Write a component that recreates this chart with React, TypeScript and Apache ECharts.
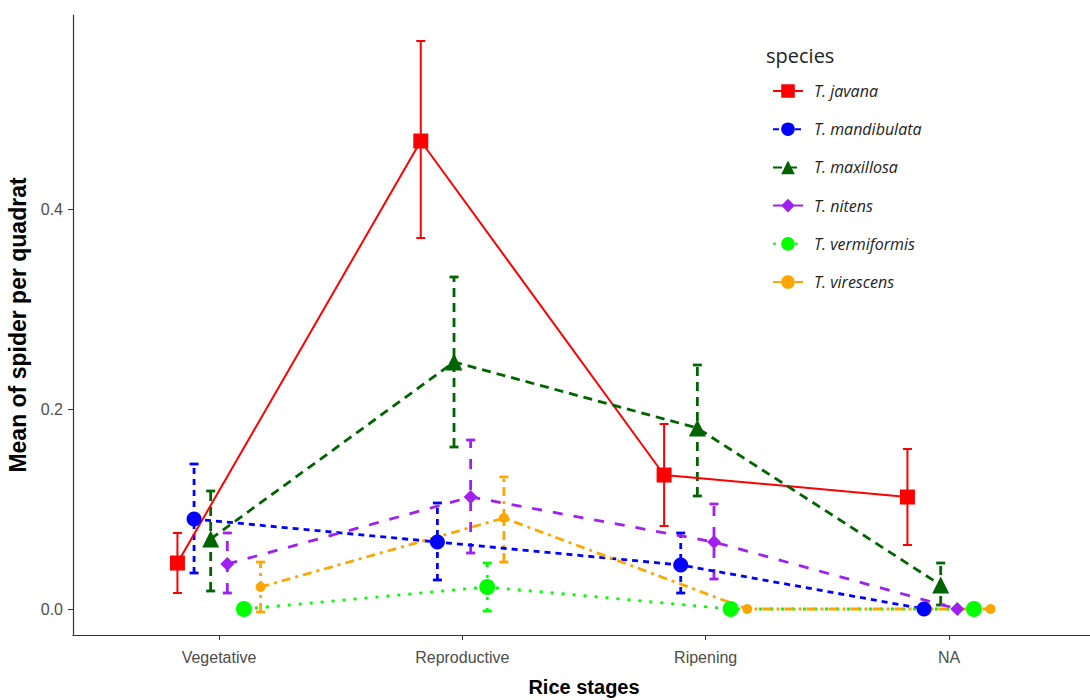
import React, { useEffect, useRef } from "react";
import * as echarts from "echarts";

const categories = ["Vegetative", "Reproductive", "Ripening", "NA"];
const speciesNames = ["T. javana", "T. mandibulata", "T. maxillosa", "T. nitens", "T. vermiformis", "T. virescens"];
const yTicks = [0, 0.2, 0.4];

const javanaMean = [0.046, 0.468, 0.134, 0.112];
const javanaLow = [0.016, 0.371, 0.083, 0.064];
const javanaHigh = [0.076, 0.568, 0.185, 0.16];

const mandibulataMean = [0.09, 0.067, 0.044, 0.0];
const mandibulataLow = [0.036, 0.029, 0.016, 0.0];
const mandibulataHigh = [0.145, 0.106, 0.076, 0.0];

const maxillosaMean = [0.07, 0.247, 0.181, 0.024];
const maxillosaLow = [0.018, 0.162, 0.113, 0.004];
const maxillosaHigh = [0.118, 0.332, 0.244, 0.046];

const nitensMean = [0.045, 0.112, 0.067, 0.0];
const nitensLow = [0.016, 0.056, 0.03, 0.0];
const nitensHigh = [0.076, 0.169, 0.105, 0.0];

const vermiformisMean = [0.0, 0.022, 0.0, 0.0];
const vermiformisLow = [0.0, -0.002, 0.0, 0.0];
const vermiformisHigh = [0.0, 0.046, 0.0, 0.0];

const virescensMean = [0.022, 0.091, 0.0, 0.0];
const virescensLow = [-0.003, 0.047, 0.0, 0.0];
const virescensHigh = [0.047, 0.132, 0.0, 0.0];

const means = [javanaMean, mandibulataMean, maxillosaMean, nitensMean, vermiformisMean, virescensMean];
const lows = [javanaLow, mandibulataLow, maxillosaLow, nitensLow, vermiformisLow, virescensLow];
const highs = [javanaHigh, mandibulataHigh, maxillosaHigh, nitensHigh, vermiformisHigh, virescensHigh];

const colors = ["#FF0000", "#0000FF", "#006400", "#A020F0", "#00FF00", "#FFA500"];
const symbols = ["rect", "circle", "triangle", "diamond", "circle", "circle"];
const symbolSizes = [15, 15, 17, 14, 16, 10];
const dashes: any[] = ["solid", [6, 5], [9, 6], [10, 11], [3, 8], [9, 5, 3, 5]];
const widths = [2, 2.8, 2.8, 2.8, 2.8, 2.8];

const dodgeWidth = 0.41;

export default function App() {
  const ref = useRef<HTMLDivElement>(null);
  useEffect(() => {
    if (!ref.current) return;
    const chart = echarts.init(ref.current, null, { renderer: "svg" });
    const n = speciesNames.length;
    const step = dodgeWidth / n;
    const offset = (s: number) => (s - (n - 1) / 2) * step;

    const series: any[] = [];
    speciesNames.forEach((name, s) => {
      const errData = categories
        .map((_, i) => [i + 1 + offset(s), lows[s][i], highs[s][i]])
        .filter((d) => d[1] !== d[2]);
      series.push({
        type: "custom",
        name: name + " err",
        z: 1,
        silent: true,
        data: errData,
        encode: { x: 0, y: [1, 2] },
        renderItem: (params: any, api: any) => {
          const x = api.value(0);
          const p1 = api.coord([x, api.value(1)]);
          const p2 = api.coord([x, api.value(2)]);
          const hw = 4.5;
          const style = {
            stroke: colors[s],
            lineWidth: widths[s],
            lineDash: dashes[s] === "solid" ? null : dashes[s],
          };
          return {
            type: "group",
            children: [
              { type: "line", shape: { x1: p1[0], y1: p1[1], x2: p2[0], y2: p2[1] }, style },
              { type: "line", shape: { x1: p1[0] - hw, y1: p1[1], x2: p1[0] + hw, y2: p1[1] }, style: { stroke: colors[s], lineWidth: widths[s] } },
              { type: "line", shape: { x1: p2[0] - hw, y1: p2[1], x2: p2[0] + hw, y2: p2[1] }, style: { stroke: colors[s], lineWidth: widths[s] } },
            ],
          };
        },
      });
    });
    speciesNames.forEach((name, s) => {
      series.push({
        type: "line",
        name,
        z: 2,
        data: categories.map((_, i) => [i + 1 + offset(s), means[s][i]]),
        symbol: symbols[s],
        symbolSize: symbolSizes[s],
        showAllSymbol: true,
        itemStyle: { color: colors[s] },
        lineStyle: { color: colors[s], width: widths[s], type: dashes[s] },
        emphasis: { disabled: true },
      });
    });

    chart.setOption({
      animation: false,
      backgroundColor: "#ffffff",
      grid: { left: 73, right: -5, top: 15, bottom: 65, outerBoundsMode: "none", containLabel: false },
      xAxis: {
        type: "value",
        min: 0.4,
        max: 4.6,
        name: "Rice stages",
        nameLocation: "middle",
        nameGap: 42,
        nameTextStyle: { fontFamily: "Liberation Sans", fontWeight: "bold", fontSize: 20, color: "#000" },
        splitLine: { show: false },
        axisLine: { show: true, onZero: false, lineStyle: { color: "#333", width: 1.2 } },
        axisTick: { show: true, customValues: [1, 2, 3, 4], length: 5, lineStyle: { color: "#333" } },
        axisLabel: {
          customValues: [1, 2, 3, 4],
          formatter: (v: number) => categories[Math.round(v) - 1] ?? "",
          margin: 14,
          fontFamily: "Liberation Sans",
          fontSize: 16,
          color: "#4d4d4d",
        },
      },
      yAxis: {
        type: "value",
        min: -0.026,
        max: 0.594,
        name: "Mean of spider per quadrat",
        nameLocation: "middle",
        nameGap: 37,
        nameTextStyle: { fontFamily: "Liberation Sans", fontWeight: "bold", fontSize: 23, color: "#000" },
        splitLine: { show: false },
        axisLine: { show: true, onZero: false, lineStyle: { color: "#333", width: 1.2 } },
        axisTick: { show: true, customValues: yTicks, length: 5, lineStyle: { color: "#333" } },
        axisLabel: {
          customValues: yTicks,
          formatter: (v: number) => v.toFixed(1),
          margin: 10,
          fontFamily: "Liberation Sans",
          fontSize: 16,
          color: "#4d4d4d",
        },
      },
      legend: {
        data: speciesNames,
        orient: "vertical",
        left: 767,
        top: 78,
        itemWidth: 30,
        itemHeight: 17,
        itemGap: 22.2,
        selectedMode: false,
        textStyle: { fontFamily: "Open Sans", fontStyle: "italic", fontSize: 16, color: "#222", padding: [0, 0, 0, 6] },
      },
      graphic: [
        {
          type: "text",
          left: 766,
          top: 45,
          style: { text: "species", fontFamily: "Open Sans", fontSize: 20, fill: "#222" },
        },
      ],
      series,
    });
    return () => chart.dispose();
  }, []);
  return <div ref={ref} style={{ position: "fixed", left: 0, top: 0, width: 1090, height: 700 }} />;
}
